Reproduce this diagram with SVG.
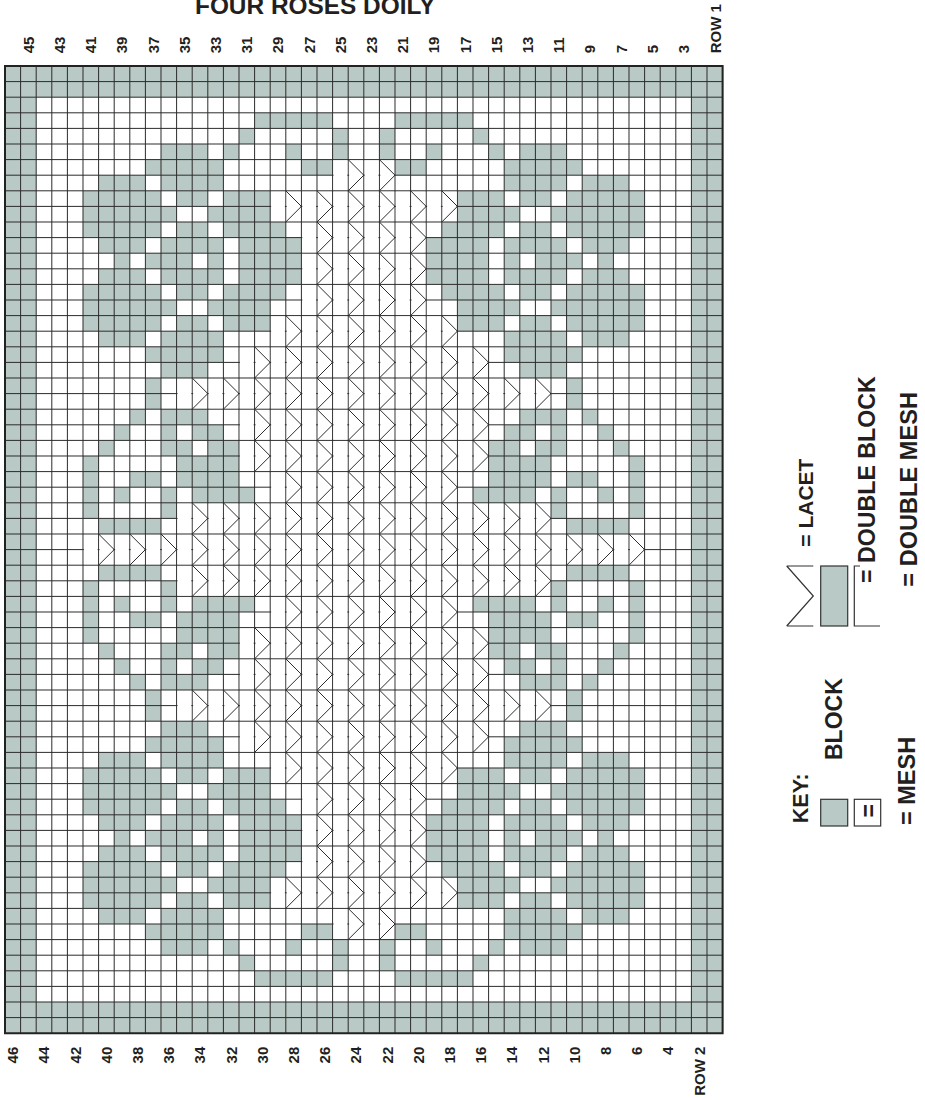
<svg xmlns="http://www.w3.org/2000/svg" width="925" height="1100" viewBox="0 0 925 1100">
<style>
.t{font-family:"Liberation Sans",Arial,Helvetica,sans-serif;font-weight:bold;fill:#231f20}
.n{font-size:15px}
.g{fill:#b9c9c5}
.sym{stroke:#333;stroke-width:1.2}
</style>
<defs>
<g id="LB"><rect x="-0.94" y="0.07" width="0.88" height="1.86" fill="#fff"/><rect x="0.06" y="0.07" width="0.88" height="1.86" fill="#fff"/><path d="M0 0L1 1L0 2" fill="none" stroke="#2b2b2b" stroke-width="1" vector-effect="non-scaling-stroke"/></g>
</defs>
<rect width="925" height="1100" fill="#fff"/>
<text class="t" x="195" y="14" font-size="24.4">FOUR ROSES DOILY</text>
<g id="chart" transform="translate(5 66) scale(15.6)">
<rect width="46" height="62" fill="#fff"/>
<g id="gTL" class="g">
<rect width="23" height="2"/>
<rect y="2" width="2" height="29"/>
<rect x="16" y="3" width="5" height="1"/>
<rect x="15" y="4" width="1" height="1"/>
<rect x="21" y="4" width="1" height="2"/>
<rect x="10" y="5" width="3" height="1"/>
<rect x="14" y="5" width="1" height="1"/>
<rect x="18" y="5" width="1" height="1"/>
<rect x="9" y="6" width="5" height="1"/>
<rect x="19" y="6" width="2" height="1"/>
<rect x="6" y="7" width="3" height="1"/>
<rect x="10" y="7" width="4" height="1"/>
<rect x="5" y="8" width="5" height="1"/>
<rect x="11" y="8" width="2" height="1"/>
<rect x="14" y="8" width="3" height="1"/>
<rect x="5" y="9" width="6" height="1"/>
<rect x="13" y="9" width="4" height="1"/>
<rect x="5" y="10" width="5" height="1"/>
<rect x="11" y="10" width="2" height="1"/>
<rect x="14" y="10" width="4" height="1"/>
<rect x="6" y="11" width="3" height="1"/>
<rect x="10" y="11" width="4" height="1"/>
<rect x="15" y="11" width="4" height="3"/>
<rect x="7" y="12" width="1" height="1"/>
<rect x="9" y="12" width="3" height="1"/>
<rect x="13" y="12" width="1" height="1"/>
<rect x="6" y="13" width="3" height="1"/>
<rect x="10" y="13" width="4" height="1"/>
<rect x="5" y="14" width="5" height="1"/>
<rect x="11" y="14" width="2" height="1"/>
<rect x="14" y="14" width="4" height="1"/>
<rect x="5" y="15" width="6" height="1"/>
<rect x="13" y="15" width="4" height="1"/>
<rect x="5" y="16" width="5" height="1"/>
<rect x="11" y="16" width="2" height="1"/>
<rect x="14" y="16" width="3" height="1"/>
<rect x="6" y="17" width="3" height="1"/>
<rect x="10" y="17" width="4" height="1"/>
<rect x="9" y="18" width="5" height="1"/>
<rect x="10" y="19" width="3" height="1"/>
<rect x="9" y="20" width="1" height="2"/>
<rect x="8" y="22" width="1" height="1"/>
<rect x="10" y="22" width="3" height="1"/>
<rect x="7" y="23" width="1" height="1"/>
<rect x="10" y="23" width="1" height="1"/>
<rect x="12" y="23" width="2" height="1"/>
<rect x="6" y="24" width="1" height="1"/>
<rect x="10" y="24" width="2" height="1"/>
<rect x="13" y="24" width="2" height="1"/>
<rect x="5" y="25" width="1" height="4"/>
<rect x="11" y="25" width="4" height="2"/>
<rect x="8" y="26" width="2" height="1"/>
<rect x="7" y="27" width="1" height="1"/>
<rect x="10" y="27" width="1" height="2"/>
<rect x="12" y="27" width="4" height="1"/>
<rect x="6" y="29" width="4" height="1"/>
</g>
<use href="#gTL" transform="matrix(-1 0 0 1 46 0)"/>
<use href="#gTL" transform="matrix(1 0 0 -1 0 62)"/>
<use href="#gTL" transform="matrix(-1 0 0 -1 46 62)"/>
<path fill="none" stroke="#2b2b2b" stroke-width="1" vector-effect="non-scaling-stroke" d="M0 0V62M1 0V62M2 0V62M3 0V62M4 0V62M5 0V62M6 0V62M7 0V62M8 0V62M9 0V62M10 0V62M11 0V62M12 0V62M13 0V62M14 0V62M15 0V62M16 0V62M17 0V62M18 0V62M19 0V62M20 0V62M21 0V62M22 0V62M23 0V62M24 0V62M25 0V62M26 0V62M27 0V62M28 0V62M29 0V62M30 0V62M31 0V62M32 0V62M33 0V62M34 0V62M35 0V62M36 0V62M37 0V62M38 0V62M39 0V62M40 0V62M41 0V62M42 0V62M43 0V62M44 0V62M45 0V62M46 0V62M0 1H46M0 2H46M0 3H46M0 4H46M0 5H46M0 6H46M0 7H46M0 8H46M0 9H46M0 10H46M0 11H46M0 12H46M0 13H46M0 14H46M0 15H46M0 16H46M0 17H46M0 18H46M0 19H46M0 20H46M0 21H46M0 22H46M0 23H46M0 24H46M0 25H46M0 26H46M0 27H46M0 28H46M0 29H46M0 30H46M0 31H46M0 32H46M0 33H46M0 34H46M0 35H46M0 36H46M0 37H46M0 38H46M0 39H46M0 40H46M0 41H46M0 42H46M0 43H46M0 44H46M0 45H46M0 46H46M0 47H46M0 48H46M0 49H46M0 50H46M0 51H46M0 52H46M0 53H46M0 54H46M0 55H46M0 56H46M0 57H46M0 58H46M0 59H46M0 60H46M0 61H46"/>
<g id="lTL">
<use href="#LB" x="22" y="6"/>
<use href="#LB" x="18" y="8"/><use href="#LB" x="20" y="8"/><use href="#LB" x="22" y="8"/>
<use href="#LB" x="20" y="10"/><use href="#LB" x="22" y="10"/>
<use href="#LB" x="20" y="12"/><use href="#LB" x="22" y="12"/>
<use href="#LB" x="20" y="14"/><use href="#LB" x="22" y="14"/>
<use href="#LB" x="18" y="16"/><use href="#LB" x="20" y="16"/><use href="#LB" x="22" y="16"/>
<use href="#LB" x="16" y="18"/><use href="#LB" x="18" y="18"/><use href="#LB" x="20" y="18"/><use href="#LB" x="22" y="18"/>
<use href="#LB" x="12" y="20"/><use href="#LB" x="14" y="20"/><use href="#LB" x="16" y="20"/><use href="#LB" x="18" y="20"/><use href="#LB" x="20" y="20"/><use href="#LB" x="22" y="20"/>
<use href="#LB" x="16" y="22"/><use href="#LB" x="18" y="22"/><use href="#LB" x="20" y="22"/><use href="#LB" x="22" y="22"/>
<use href="#LB" x="16" y="24"/><use href="#LB" x="18" y="24"/><use href="#LB" x="20" y="24"/><use href="#LB" x="22" y="24"/>
<use href="#LB" x="18" y="26"/><use href="#LB" x="20" y="26"/><use href="#LB" x="22" y="26"/>
<use href="#LB" x="12" y="28"/><use href="#LB" x="14" y="28"/><use href="#LB" x="16" y="28"/><use href="#LB" x="18" y="28"/><use href="#LB" x="20" y="28"/><use href="#LB" x="22" y="28"/>
</g>
<use href="#lTL" transform="matrix(1 0 0 -1 0 62)"/>
<g id="lTR">
<use href="#LB" x="24" y="6"/>
<use href="#LB" x="24" y="8"/><use href="#LB" x="26" y="8"/><use href="#LB" x="28" y="8"/>
<use href="#LB" x="24" y="10"/><use href="#LB" x="26" y="10"/>
<use href="#LB" x="24" y="12"/><use href="#LB" x="26" y="12"/>
<use href="#LB" x="24" y="14"/><use href="#LB" x="26" y="14"/>
<use href="#LB" x="24" y="16"/><use href="#LB" x="26" y="16"/><use href="#LB" x="28" y="16"/>
<use href="#LB" x="24" y="18"/><use href="#LB" x="26" y="18"/><use href="#LB" x="28" y="18"/><use href="#LB" x="30" y="18"/>
<use href="#LB" x="24" y="20"/><use href="#LB" x="26" y="20"/><use href="#LB" x="28" y="20"/><use href="#LB" x="30" y="20"/><use href="#LB" x="32" y="20"/><use href="#LB" x="34" y="20"/>
<use href="#LB" x="24" y="22"/><use href="#LB" x="26" y="22"/><use href="#LB" x="28" y="22"/><use href="#LB" x="30" y="22"/>
<use href="#LB" x="24" y="24"/><use href="#LB" x="26" y="24"/><use href="#LB" x="28" y="24"/><use href="#LB" x="30" y="24"/>
<use href="#LB" x="24" y="26"/><use href="#LB" x="26" y="26"/><use href="#LB" x="28" y="26"/>
<use href="#LB" x="24" y="28"/><use href="#LB" x="26" y="28"/><use href="#LB" x="28" y="28"/><use href="#LB" x="30" y="28"/><use href="#LB" x="32" y="28"/><use href="#LB" x="34" y="28"/>
</g>
<use href="#lTR" transform="matrix(1 0 0 -1 0 62)"/>
<g id="lC">
<use href="#LB" x="6" y="30"/><use href="#LB" x="8" y="30"/><use href="#LB" x="10" y="30"/><use href="#LB" x="12" y="30"/><use href="#LB" x="14" y="30"/><use href="#LB" x="16" y="30"/><use href="#LB" x="18" y="30"/><use href="#LB" x="20" y="30"/><use href="#LB" x="22" y="30"/><use href="#LB" x="24" y="30"/><use href="#LB" x="26" y="30"/><use href="#LB" x="28" y="30"/><use href="#LB" x="30" y="30"/><use href="#LB" x="32" y="30"/><use href="#LB" x="34" y="30"/><use href="#LB" x="36" y="30"/><use href="#LB" x="38" y="30"/><use href="#LB" x="40" y="30"/>
</g>
<rect width="46" height="62" fill="none" stroke="#222" stroke-width="2" vector-effect="non-scaling-stroke"/>
</g>
<g id="top-labels" class="t n">
<text transform="translate(33.7 53.3) rotate(-90)">45</text>
<text transform="translate(64.9 53.3) rotate(-90)">43</text>
<text transform="translate(96.1 53.3) rotate(-90)">41</text>
<text transform="translate(127.3 53.3) rotate(-90)">39</text>
<text transform="translate(158.5 53.3) rotate(-90)">37</text>
<text transform="translate(189.7 53.3) rotate(-90)">35</text>
<text transform="translate(220.9 53.3) rotate(-90)">33</text>
<text transform="translate(252.1 53.3) rotate(-90)">31</text>
<text transform="translate(283.3 53.3) rotate(-90)">29</text>
<text transform="translate(314.5 53.3) rotate(-90)">27</text>
<text transform="translate(345.7 53.3) rotate(-90)">25</text>
<text transform="translate(376.9 53.3) rotate(-90)">23</text>
<text transform="translate(408.1 53.3) rotate(-90)">21</text>
<text transform="translate(439.3 53.3) rotate(-90)">19</text>
<text transform="translate(470.5 53.3) rotate(-90)">17</text>
<text transform="translate(501.7 53.3) rotate(-90)">15</text>
<text transform="translate(532.9 53.3) rotate(-90)">13</text>
<text transform="translate(564.1 53.3) rotate(-90)">11</text>
<text transform="translate(595.3 53.3) rotate(-90)">9</text>
<text transform="translate(626.5 53.3) rotate(-90)">7</text>
<text transform="translate(657.7 53.3) rotate(-90)">5</text>
<text transform="translate(688.9 53.3) rotate(-90)">3</text>
<text transform="translate(720.6 53.3) rotate(-90)">ROW 1</text>
</g>
<g id="bottom-labels" class="t n" text-anchor="end">
<text transform="translate(18.1 1046.7) rotate(-90)">46</text>
<text transform="translate(49.3 1046.7) rotate(-90)">44</text>
<text transform="translate(80.5 1046.7) rotate(-90)">42</text>
<text transform="translate(111.7 1046.7) rotate(-90)">40</text>
<text transform="translate(142.9 1046.7) rotate(-90)">38</text>
<text transform="translate(174.1 1046.7) rotate(-90)">36</text>
<text transform="translate(205.3 1046.7) rotate(-90)">34</text>
<text transform="translate(236.5 1046.7) rotate(-90)">32</text>
<text transform="translate(267.7 1046.7) rotate(-90)">30</text>
<text transform="translate(298.9 1046.7) rotate(-90)">28</text>
<text transform="translate(330.1 1046.7) rotate(-90)">26</text>
<text transform="translate(361.3 1046.7) rotate(-90)">24</text>
<text transform="translate(392.5 1046.7) rotate(-90)">22</text>
<text transform="translate(423.7 1046.7) rotate(-90)">20</text>
<text transform="translate(454.9 1046.7) rotate(-90)">18</text>
<text transform="translate(486.1 1046.7) rotate(-90)">16</text>
<text transform="translate(517.3 1046.7) rotate(-90)">14</text>
<text transform="translate(548.5 1046.7) rotate(-90)">12</text>
<text transform="translate(579.7 1046.7) rotate(-90)">10</text>
<text transform="translate(610.9 1046.7) rotate(-90)">8</text>
<text transform="translate(642.1 1046.7) rotate(-90)">6</text>
<text transform="translate(673.3 1046.7) rotate(-90)">4</text>
<text transform="translate(704.5 1046.7) rotate(-90)">ROW 2</text>
</g>
<g id="key">
<text class="t" font-size="21.6" transform="translate(808.3 823.3) rotate(-90)">KEY:</text>
<rect class="g sym" x="820.7" y="799.3" width="27" height="26.7"/>
<text class="t" font-size="23" transform="translate(841.5 760) rotate(-90)">BLOCK</text>
<rect class="sym" x="854.3" y="799.3" width="26.4" height="26.7" fill="#fff"/>
<text class="t" font-size="23" transform="translate(877 817.5) rotate(-90)">=</text>
<text class="t" font-size="23.5" transform="translate(915 825) rotate(-90)">= MESH</text>
<path class="sym" fill="none" d="M786.7 566H813.3M786.7 566L813.3 596L786.7 626M786.7 626H813.3"/>
<text class="t" font-size="21" transform="translate(813.3 546.7) rotate(-90)">= LACET</text>
<rect class="g sym" x="820.7" y="566" width="27" height="60"/>
<path class="sym" fill="none" d="M860 566H854.3V626H880"/>
<text class="t" font-size="23.2" transform="translate(875 583) rotate(-90)">= DOUBLE BLOCK</text>
<text class="t" font-size="23.6" transform="translate(916.7 586.7) rotate(-90)">= DOUBLE MESH</text>
</g>
</svg>
